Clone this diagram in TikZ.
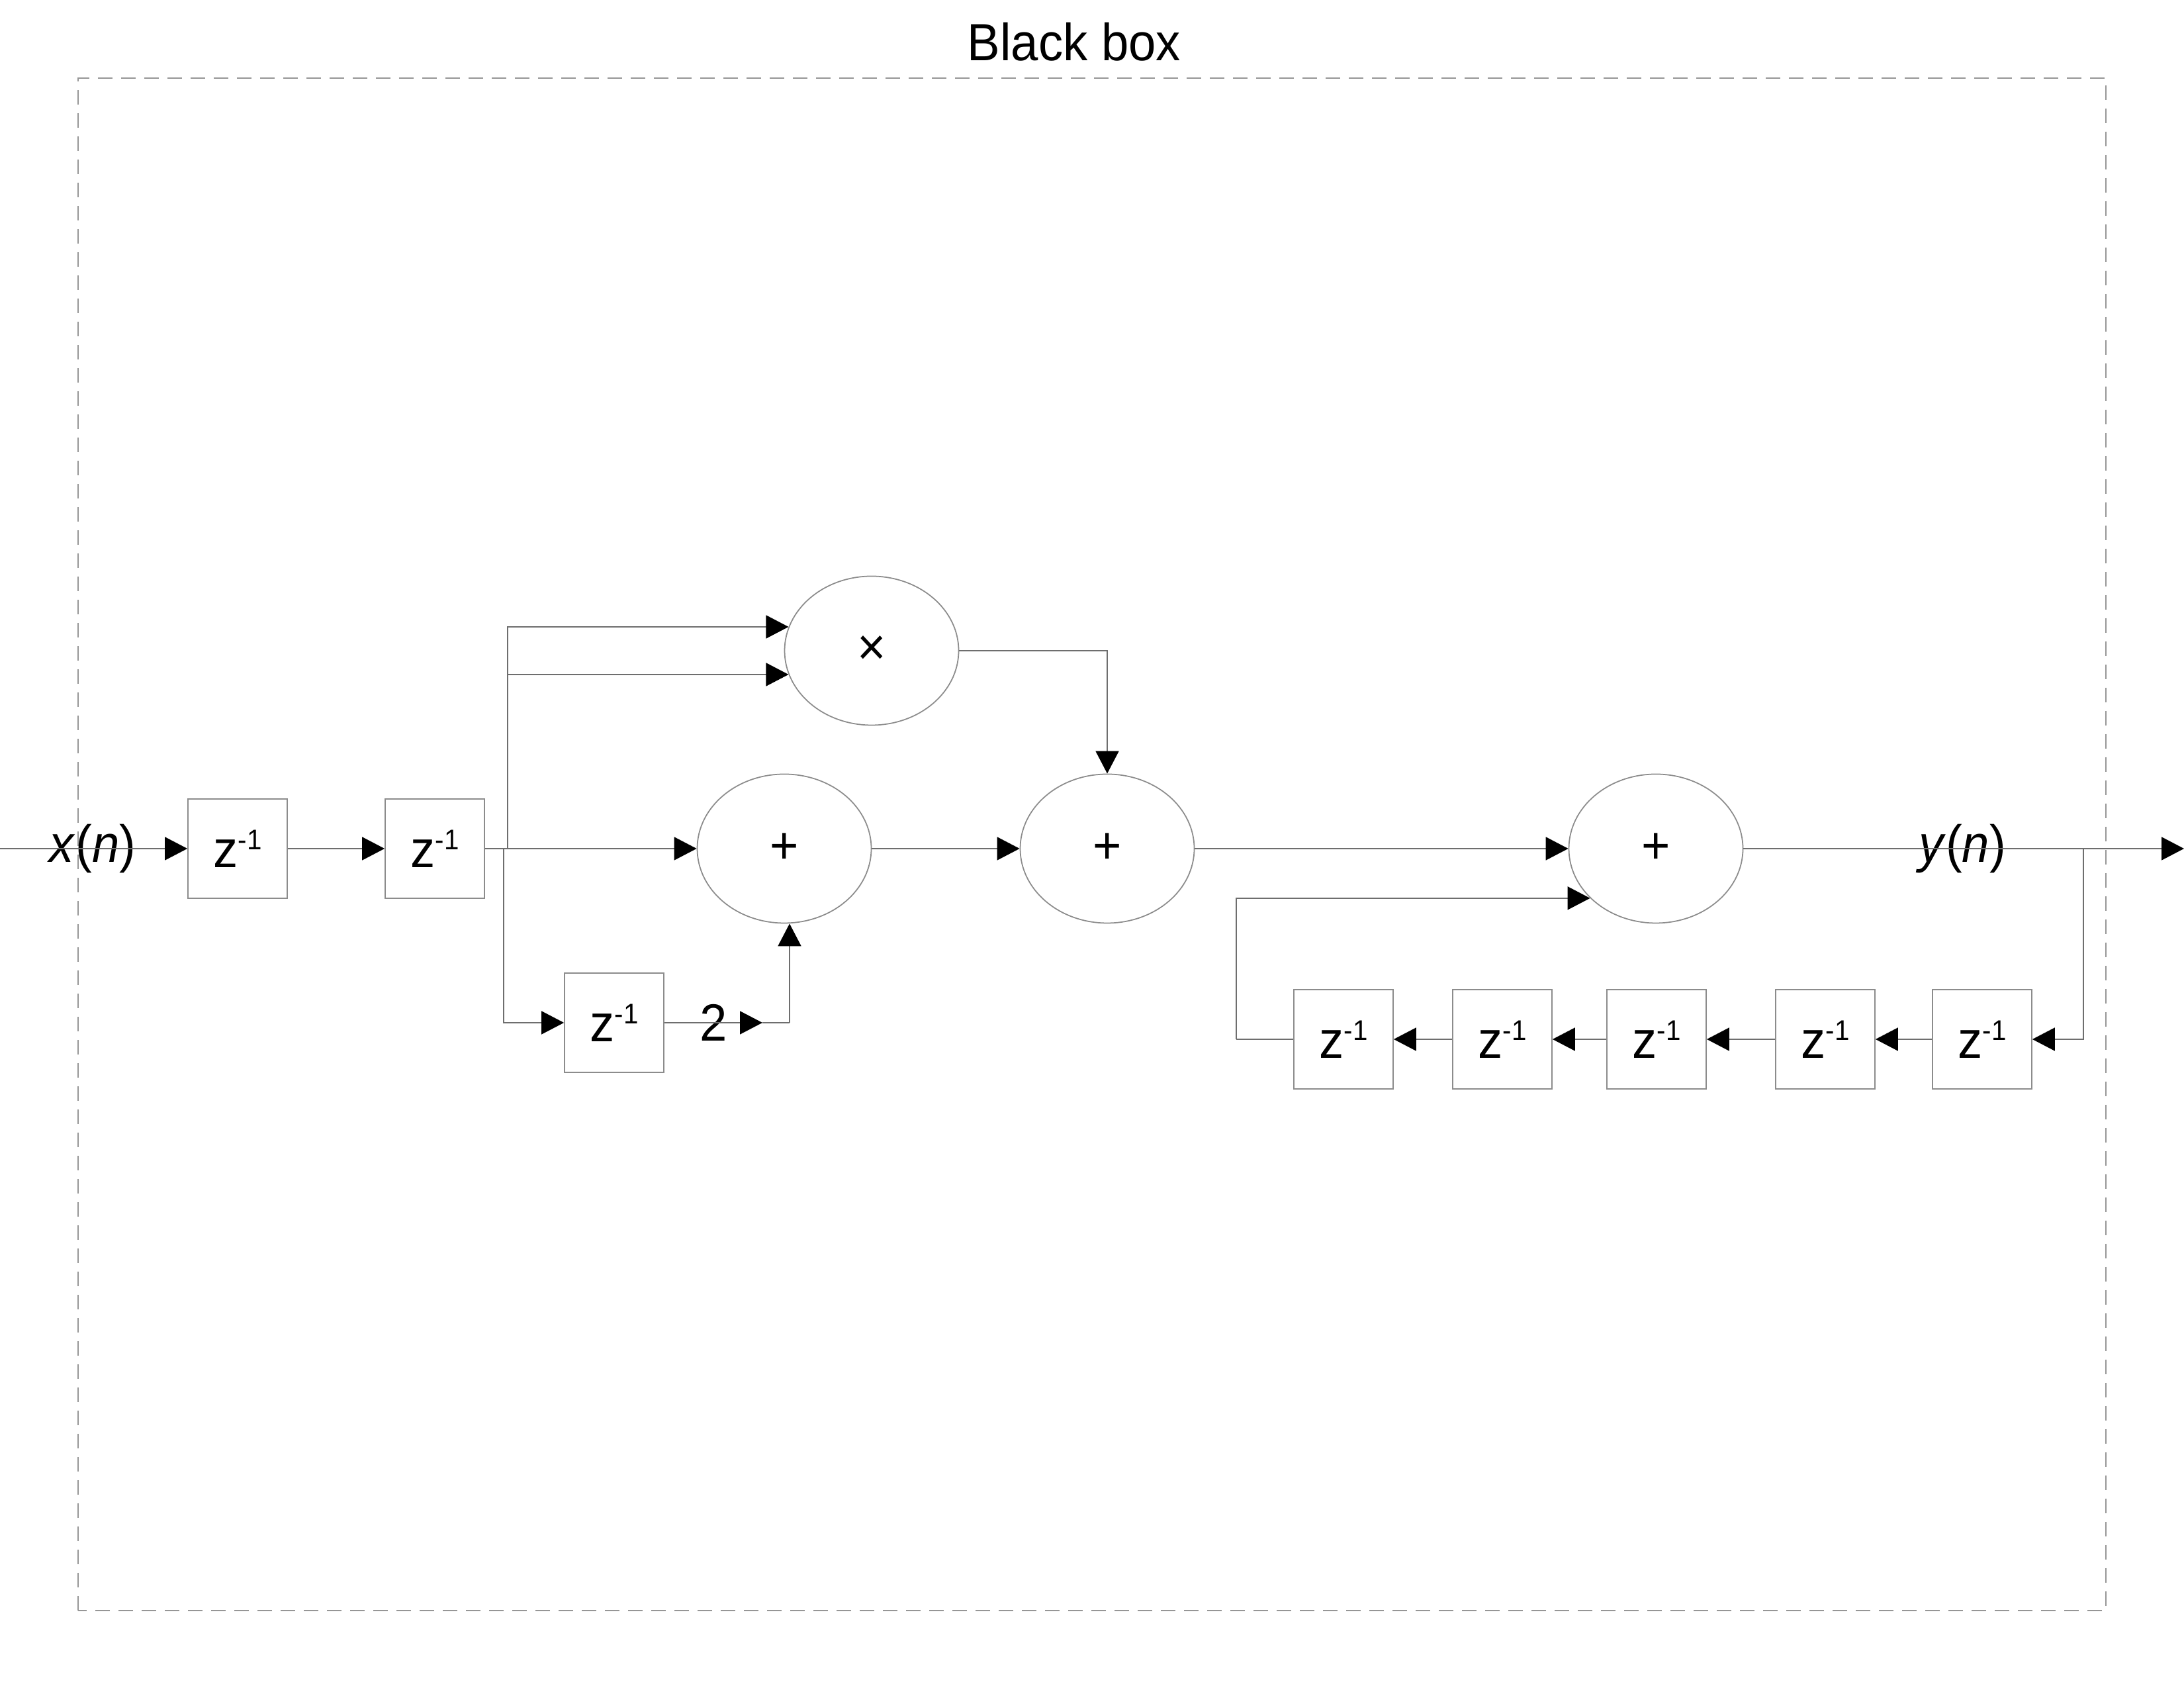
\documentclass[tikz,border=0pt]{standalone}
\usepackage[RGB]{xcolor}
\usepackage{fontspec}
\setmainfont[FakeStretch=0.94]{Liberation Sans}
\usetikzlibrary{arrows.meta,shapes.geometric}
\definecolor{linegray}{RGB}{110,110,110}
\definecolor{rimgray}{RGB}{140,140,140}
\definecolor{dashgray}{RGB}{150,150,150}
\newcommand{\zinv}{z\raisebox{7.6pt}{\fontsize{12.2}{14}\selectfont -1}}
\newcommand{\delayblock}[3]{\node[delay] (#1) at (#2,#3) {\zinv};}
\newcommand{\adder}[4]{\node[sum] (#1) at (#2,#3) {#4};}
\tikzset{
  delay/.style={draw=rimgray, line width=0.5pt, minimum size=1.5cm, inner sep=0pt},
  sum/.style={draw=rimgray, ellipse, line width=0.5pt, minimum width=2.63cm, minimum height=2.25cm, inner sep=0pt},
  wire/.style={draw=linegray, line width=0.5pt},
  flow/.style={wire, -{Triangle[length=3.4mm,width=3.5mm,color=black]}}
}

\begin{document}
\begin{tikzpicture}[every node/.style={font=\fontsize{22.5}{27}\selectfont}]
\useasboundingbox (0,0) rectangle (33,25.5);
\draw[dashgray, line width=0.5pt, dash pattern=on 2.2mm off 1.3mm] (1.18,1.17) rectangle (31.82,24.32);
\node (title) at (16.23,24.87) {Black box};
\delayblock{z1}{3.59}{12.68}
\delayblock{z2}{6.57}{12.68}
\delayblock{z3}{9.28}{10.05}
\adder{mul}{13.17}{15.67}{×}
\adder{add1}{11.85}{12.68}{+}
\adder{add2}{16.73}{12.68}{+}
\adder{add3}{25.02}{12.68}{+}
\foreach \n/\x in {1/20.30,2/22.70,3/25.03,4/27.58,5/29.95}{\delayblock{fb\n}{\x}{9.80}}
\node (xin) at (1.40,12.68) {\textit{x}(\textit{n})};
\node (yout) at (29.65,12.68) {\textit{y}(\textit{n})};
\node (two) at (10.78,10.05) {2};
\coordinate (in) at (0,12.68);
\coordinate (out) at (33,12.68);
\coordinate (uptap) at (7.67,12.68);
\coordinate (lotap) at (7.61,12.68);
\coordinate (gain) at (11.52,10.05);
\coordinate (gaincorner) at (11.93,10.05);
\coordinate (fbtap) at (31.48,12.68);
\coordinate (fbturn) at (18.68,9.80);
\draw[flow] (in) -- (z1);
\draw[flow] (z1) -- (z2);
\draw[flow] (z2) -- (add1);
\draw[flow] (uptap) |- (mul.164);
\draw[flow] (uptap |- mul.196) -- (mul.196);
\draw[flow] (lotap) |- (z3);
\draw[flow] (z3) -- (gain);
\draw[wire] (gain) -- (gaincorner);
\draw[flow] (gaincorner) -- (gaincorner |- add1.south);
\draw[flow] (mul.east) -| (add2);
\draw[flow] (add1) -- (add2);
\draw[flow] (add2) -- (add3);
\draw[flow] (add3) -- (out);
\draw[flow] (fbtap) |- (fb5);
\foreach \a/\b in {5/4,4/3,3/2,2/1}{\draw[flow] (fb\a) -- (fb\b);}
\draw[wire] (fb1) -- (fbturn);
\draw[flow] (fbturn) |- (add3.217);
\end{tikzpicture}
\end{document}
